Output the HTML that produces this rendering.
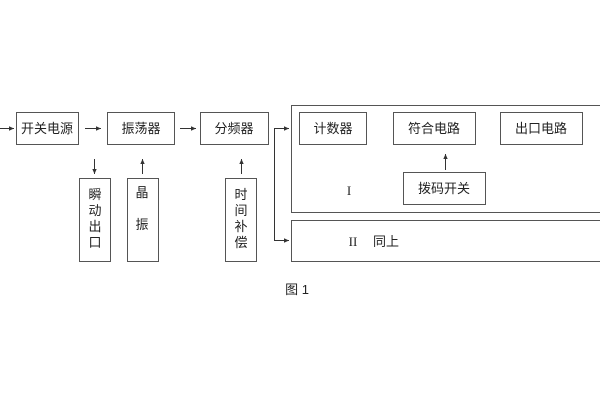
<!DOCTYPE html><html><head><meta charset="utf-8"><style>body{margin:0;background:#fff}</style></head><body>
<svg width="600" height="400" xmlns="http://www.w3.org/2000/svg" font-family="Liberation Sans, Noto Sans CJK SC, sans-serif" font-size="13" fill="#222">
<defs><marker id="a" markerWidth="6" markerHeight="6" refX="5" refY="3" orient="auto"><path d="M0,0.8L5,3L0,5.2z" fill="#333"/></marker></defs>
<g fill="none" stroke="#555" stroke-width="1">
<rect x="16.5" y="112.5" width="62" height="32"/>
<rect x="107.5" y="112.5" width="67" height="32"/>
<rect x="200.5" y="112.5" width="68" height="32"/>
<rect x="291.5" y="105.5" width="320" height="107"/>
<rect x="291.5" y="220.5" width="320" height="41"/>
<rect x="299.5" y="112.5" width="67" height="32"/>
<rect x="393.5" y="112.5" width="82" height="32"/>
<rect x="500.5" y="112.5" width="82" height="32"/>
<rect x="403.5" y="172.5" width="82" height="32"/>
<rect x="79.5" y="178.5" width="31" height="83"/>
<rect x="127.5" y="178.5" width="31" height="83"/>
<rect x="225.5" y="178.5" width="31" height="83"/>
</g>
<g stroke="#333" stroke-width="1" fill="none" marker-end="url(#a)">
<line x1="0" y1="128.5" x2="14" y2="128.5"/>
<line x1="85" y1="128.5" x2="101" y2="128.5"/>
<line x1="180" y1="128.5" x2="196" y2="128.5"/>
<polyline points="288,128.5 274.5,128.5 274.5,240.5 288,240.5" marker-end="none"/>
<line x1="280" y1="128.5" x2="289" y2="128.5"/>
<line x1="280" y1="240.5" x2="289" y2="240.5"/>
<line x1="94.5" y1="159" x2="94.5" y2="174"/>
<line x1="142.5" y1="174" x2="142.5" y2="159"/>
<line x1="241.5" y1="174" x2="241.5" y2="159"/>
<line x1="445.5" y1="170" x2="445.5" y2="154"/>
</g>
<g text-anchor="middle">
<text x="47" y="133">开关电源</text>
<text x="141" y="133">振荡器</text>
<text x="234" y="133">分频器</text>
<text x="333" y="133">计数器</text>
<text x="434" y="133">符合电路</text>
<text x="541" y="133">出口电路</text>
<text x="444" y="193">拨码开关</text>
<text x="95" y="199">瞬</text><text x="95" y="215">动</text><text x="95" y="231">出</text><text x="95" y="247">口</text>
<text x="142" y="197">晶</text><text x="142" y="229">振</text>
<text x="241" y="199">时</text><text x="241" y="215">间</text><text x="241" y="231">补</text><text x="241" y="247">偿</text>
<text x="349" y="195" font-family="Liberation Serif, serif">I</text>
<text x="353" y="246" font-family="Liberation Serif, serif">II</text>
<text x="386" y="246">同上</text>
<text x="297" y="294">图 1</text>
</g>
</svg></body></html>
